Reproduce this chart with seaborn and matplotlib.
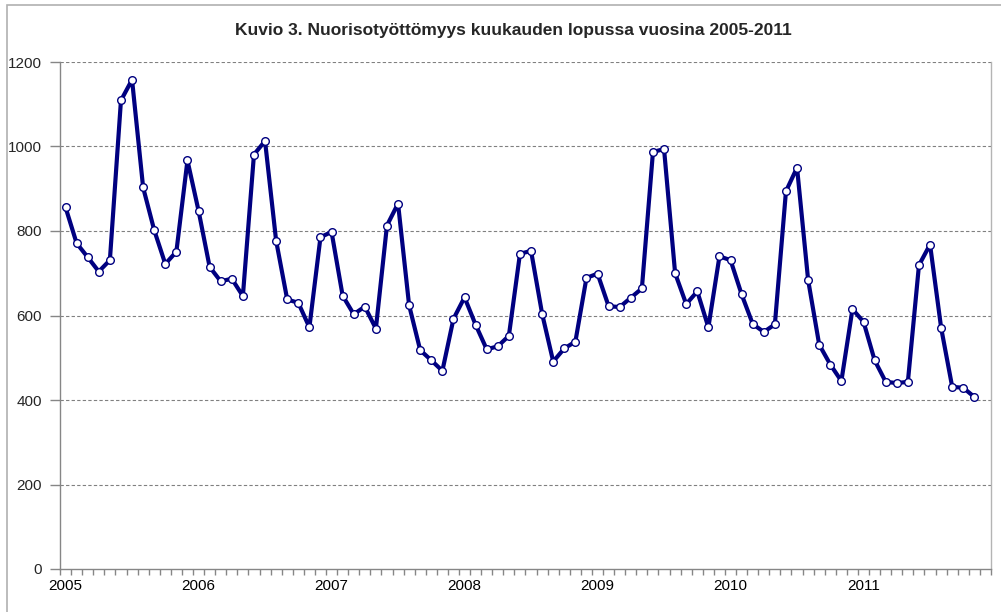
import matplotlib
matplotlib.use("Agg")
import matplotlib.pyplot as plt
import seaborn as sns
import pandas as pd
import numpy as np
from matplotlib.patches import Rectangle

years = ["2005", "2006", "2007", "2008", "2009", "2010", "2011"]
values = [
    856, 771, 738, 704, 731, 1109, 1158, 903, 802, 722, 751, 967,   # 2005
    848, 715, 681, 687, 646, 981, 1013, 777, 638, 630, 572, 785,    # 2006
    798, 647, 603, 621, 569, 813, 865, 624, 518, 494, 469, 592,     # 2007
    643, 578, 520, 527, 552, 746, 753, 604, 491, 522, 538, 689,     # 2008
    699, 622, 620, 642, 664, 987, 994, 700, 627, 657, 572, 740,     # 2009
    731, 650, 580, 561, 579, 894, 950, 684, 531, 484, 445, 615,     # 2010
    585, 494, 443, 440, 443, 719, 768, 571, 431, 429, 407,          # 2011
]
title = "Kuvio 3. Nuorisotyöttömyys kuukauden lopussa vuosina 2005-2011"
yticks = [0, 200, 400, 600, 800, 1000, 1200]

df = pd.DataFrame({"month": np.arange(len(values)), "value": values})

sns.set_theme(style="white")
plt.rcParams["font.family"] = ["Liberation Sans", "DejaVu Sans"]

fig = plt.figure(figsize=(10.01, 6.12), dpi=100)
ax = fig.add_axes([60 / 1001, 1 - 569 / 612, (991 - 60) / 1001, (569 - 62) / 612])

sns.lineplot(data=df, x="month", y="value", ax=ax, color="#000080", linewidth=3.0,
             marker="o", markersize=5.5, markerfacecolor="white",
             markeredgecolor="#000080", markeredgewidth=1.0)

n = 84
ax.set_xlim(-0.5, n - 0.5)
ax.set_ylim(0, 1200)
ax.set_yticks(yticks)
ax.set_yticklabels([str(v) for v in yticks], fontsize=11)
ax.set_xticks([12 * i for i in range(len(years))])
ax.set_xticklabels(years, fontsize=11)
ax.set_xticks(np.arange(-0.5, n, 1), minor=True)
ax.tick_params(axis="x", which="major", length=0, pad=7, colors="black")
ax.tick_params(axis="x", which="minor", length=4, width=1, color="#868686", direction="out", bottom=True)
ax.tick_params(axis="y", which="major", length=7, width=1, color="#868686", direction="out", left=True, pad=6)
ax.set_xlabel("")
ax.set_ylabel("")

ax.grid(False)
for v in yticks[1:]:
    ax.axhline(v, color="#808080", linewidth=0.8, linestyle=(0, (3, 2)), zorder=0)

for side in ["left", "bottom"]:
    ax.spines[side].set_color("#868686")
    ax.spines[side].set_linewidth(1.0)
ax.spines["right"].set_color("#B4B4B4")
ax.spines["right"].set_linewidth(1.0)
ax.spines["top"].set_visible(False)

fig.text(0.513, 1 - 30 / 612, title, ha="center", va="center", fontsize=12.5, fontweight="bold")

# outer chart border
fig.patches.append(Rectangle((7 / 1001, -0.01), 1.02, 1 - 5 / 612 + 0.01, transform=fig.transFigure,
                             fill=False, edgecolor="#B0B0B0", linewidth=1.2))

fig.savefig("out.png", dpi=100)
